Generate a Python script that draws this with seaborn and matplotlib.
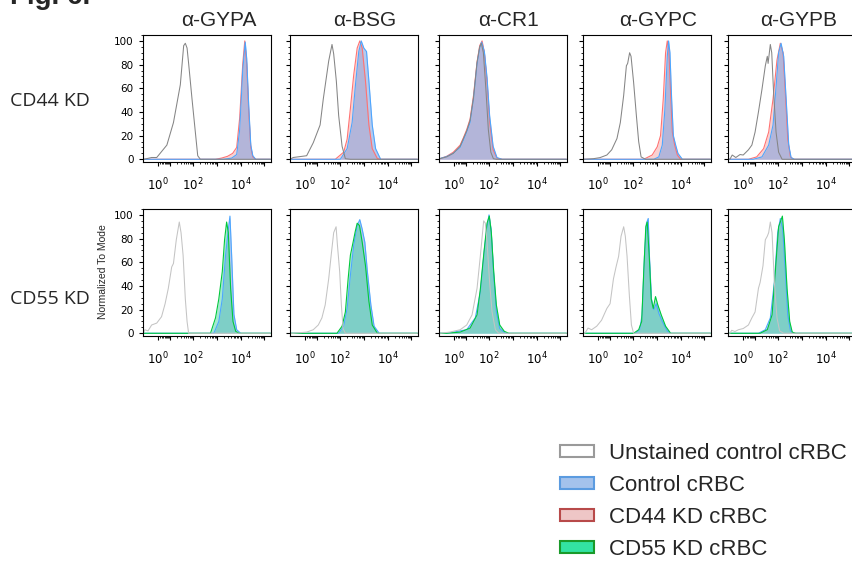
import matplotlib
matplotlib.use("Agg")
import matplotlib.pyplot as plt
import seaborn as sns
from matplotlib.patches import Patch
from matplotlib.ticker import MultipleLocator

# ---- labels -------------------------------------------------------------
markers = ["α-GYPA", "α-BSG", "α-CR1", "α-GYPC", "α-GYPB"]
rows = ["CD44 KD", "CD55 KD"]
legend_labels = ["Unstained control cRBC", "Control cRBC", "CD44 KD cRBC", "CD55 KD cRBC"]
x_major = [1, 10, 100, 1000, 10000, 100000]
x_major_labels = [r"$10^{0}$", "", r"$10^{2}$", "", r"$10^{4}$", ""]
y_ticks = [0, 20, 40, 60, 80, 100]
y_label = "Normalized To Mode"

# ---- histograms: (fluorescence intensity, % of mode) --
# CD44 KD row
gypa_cd44_unst = [(-9, 0), (-8.2, 0), (-2.5, 1.5), (0.3, 1.5), (6.8, 12), (14.2, 31), (28.4, 63),
                  (39.5, 96), (46.4, 98), (55, 94), (64, 81), (89, 51), (123, 23), (155, 3), (200, 0),
                  (180000, 0)]
gypa_cd44_ctrl = [(-9, 0), (1900, 0), (4200, 1), (6800, 4), (9100, 25), (12200, 75), (15600, 99),
                  (18000, 85), (21900, 45), (26700, 12), (32500, 3), (43000, 0), (180000, 0)]
gypa_cd44_kd = [(-9, 0), (870, 0), (1570, 1), (2800, 2.5), (4600, 5), (6800, 10), (9100, 35),
                (12200, 80), (14900, 100), (18000, 80), (21900, 40), (26700, 10), (32500, 2),
                (43000, 0), (180000, 0)]

bsg_cd44_unst = [(-9, 0), (-6.2, 1.5), (1.9, 3), (6.3, 14), (13.7, 29), (19, 51), (32.5, 83),
                 (45, 97), (53, 89), (68.7, 66), (86, 37), (120, 11), (165, 0.5), (269, 0), (180000, 0)]
bsg_cd44_ctrl = [(-9, 0), (101, 0), (196, 9), (318, 31), (440, 63), (607, 91), (770, 100), (990, 94),
                 (1287, 91), (1620, 66), (2240, 29), (3100, 9), (5064, 0), (180000, 0)]
bsg_cd44_kd = [(-9, 0), (62, 0), (140, 6), (196, 17), (269, 43), (370, 71), (520, 94), (670, 100),
               (845, 94), (1165, 66), (1620, 29), (2240, 9), (3680, 0.6), (5064, 0), (180000, 0)]

cr1_cd44_unst = [(-9, 0), (-8.2, 0.5), (-3.1, 2), (0.6, 5), (4.7, 11), (10.6, 24), (15.2, 33),
                 (21.5, 52), (30.5, 82), (39.6, 95), (46.4, 98), (56.6, 90), (72, 60), (92, 25),
                 (117, 6), (150, 0.5), (200, 0), (180000, 0)]
cr1_cd44_ctrl = [(-9, 0), (-8.2, 0.6), (-3.1, 2.3), (0.6, 5), (4.7, 10), (7.2, 16), (10.6, 23),
                 (15.2, 31), (21.5, 51), (30.5, 80), (39.6, 94), (48, 99), (62.5, 91), (81, 69),
                 (104, 37), (146, 11), (213, 1.4), (350, 0), (180000, 0)]
cr1_cd44_kd = [(-9, 0), (-8.2, 0.5), (-3.1, 2.5), (0.6, 6), (4.7, 12), (7.2, 18), (10.6, 25),
               (15.2, 34), (21.5, 54), (30.5, 82), (39.6, 96), (50, 100), (62.5, 90), (81, 65),
               (104, 32), (146, 8), (213, 1), (350, 0), (180000, 0)]

gypc_cd44_unst = [(-9, 0), (-7.3, 0), (-1.5, 0.5), (2.1, 1.4), (6.8, 3.6), (11.8, 8), (20.3, 17.5),
                  (28.4, 31), (39.5, 54), (51.5, 79), (58.3, 81), (70.6, 90), (81, 87), (104, 65),
                  (136, 37), (170, 15), (215, 2), (328, 0), (180000, 0)]
gypc_cd44_ctrl = [(-9, 0), (740, 0), (1200, 2), (1680, 12), (2160, 42), (2730, 87), (3100, 100),
                  (3540, 90), (4165, 51), (4920, 20), (6160, 12), (7700, 5), (11800, 0), (180000, 0)]
gypc_cd44_kd = [(-9, 0), (278, 0), (630, 3.6), (1030, 10.5), (1420, 20), (1850, 51), (2315, 90),
                (2730, 100), (3200, 92), (3780, 56), (4460, 23), (5590, 12), (7270, 3.6), (10000, 0),
                (180000, 0)]

gypb_cd44_unst = [(-9, 0), (-7.3, 0), (-5.4, 3.6), (-3, 1.5), (-0.6, 4), (1.1, 3.6), (4.2, 8),
                  (6.8, 12), (9.9, 23), (14.2, 40), (20.3, 59), (28.4, 79), (34.5, 87), (37.3, 81),
                  (46.4, 97), (53.3, 90), (64, 56), (81, 23), (104, 6), (146, 0), (180000, 0)]
gypb_cd44_ctrl = [(-9, 0), (8.1, 0), (20.3, 2), (39.5, 12), (60.5, 29), (84, 65), (104, 90),
                  (132, 98), (170, 87), (216, 51), (278, 12), (350, 1.4), (484, 0), (180000, 0)]
gypb_cd44_kd = [(-9, 0), (4.2, 0), (11.8, 2), (24, 9), (39.5, 23), (60.5, 51), (89, 84), (123, 98),
                (160, 90), (200, 56), (253, 17), (328, 2), (446, 0), (180000, 0)]

# CD55 KD row
gypa_cd55_unst = [(-9, 0), (-8.8, 0), (-7.3, 3), (-4.8, 2), (-2.5, 7), (0.3, 8.6), (3.0, 14),
                  (5.4, 25), (8.1, 38), (11.8, 56), (14.2, 59), (19, 79), (25.6, 94), (30.5, 85),
                  (37.3, 66), (46.4, 29), (55, 10), (64, 0), (180000, 0)]
gypa_cd55_ctrl = [(-9, 0), (740, 0), (1200, 10), (1680, 29), (2315, 66), (3020, 88), (3540, 99),
                  (4165, 66), (5200, 16), (6800, 3), (10000, 0), (180000, 0)]
gypa_cd55_kd = [(-9, 0), (535, 0), (871, 13), (1200, 29), (1680, 52), (2100, 79), (2560, 94),
                (3020, 85), (3780, 38), (4750, 10), (6160, 1.7), (8500, 0), (180000, 0)]

bsg_cd55_unst = [(-9, 0), (-6.2, 0), (1.9, 1), (6.3, 3), (11.3, 7), (16.5, 13), (23, 24), (32.5, 46),
                 (41.5, 66), (53, 85), (67, 90), (76, 75), (95, 52), (112, 24), (132, 4), (165, 0),
                 (180000, 0)]
bsg_cd55_ctrl = [(-9, 0), (86, 0), (140, 6), (196, 21), (269, 49), (370, 74), (520, 91), (670, 96),
                 (845, 88), (1090, 77), (1400, 52), (1960, 24), (2680, 6), (4400, 0), (180000, 0)]
bsg_cd55_kd = [(-9, 0), (73, 0), (120, 6), (165, 18), (216, 46), (269, 66), (350, 77), (430, 86),
               (520, 93), (650, 91), (845, 77), (1165, 57), (1620, 27), (2240, 7), (3680, 0),
               (180000, 0)]

cr1_cd55_unst = [(-9, 0), (-8.2, 0), (-1.2, 1), (4.7, 3), (10.6, 7), (18.5, 15.5), (30.5, 38),
                 (42.5, 66), (58.3, 95), (68.7, 93), (81, 77), (104, 43), (132, 18), (182, 3),
                 (253, 0), (180000, 0)]
cr1_cd55_ctrl = [(-9, 0), (-3.1, 0), (10.6, 3), (25.6, 13), (42.5, 35), (62.5, 71), (81, 90),
                 (98, 100), (120, 88), (155, 49), (200, 18), (278, 4), (484, 0), (180000, 0)]
cr1_cd55_kd = [(-9, 0), (-3.1, 0), (4.7, 1), (15.2, 4.4), (30.5, 15.5), (42.5, 38), (58.3, 66),
               (81, 93), (101, 99), (123, 85), (155, 52), (200, 24), (278, 7), (430, 1.7), (670, 0),
               (180000, 0)]

gypc_cd55_unst = [(-9, 0), (-7.3, 0), (-4.8, 4.4), (-2.5, 3), (0.3, 6), (3.0, 11), (6.8, 21),
                  (9.9, 25), (14.2, 46), (18.5, 56), (24, 65), (30.5, 82), (39.5, 90), (46.4, 82),
                  (55, 65), (68.7, 32), (84, 7), (104, 0), (180000, 0)]
gypc_cd55_ctrl = [(-9, 0), (123, 0), (188, 3), (236, 15.5), (298, 65), (362, 93), (430, 97),
                  (484, 65), (589, 29), (740, 20), (935, 25), (1200, 17), (1680, 10), (2730, 2),
                  (3780, 0), (180000, 0)]
gypc_cd55_kd = [(-9, 0), (104, 0), (170, 3), (228, 10), (278, 52), (340, 90), (390, 94), (475, 65),
                (575, 29), (700, 21), (871, 31), (1090, 24), (1520, 15.5), (2315, 6), (3780, 0),
                (180000, 0)]

gypb_cd55_unst = [(-9, 0), (-7.3, 0), (-5.8, 2.5), (-3.5, 1.5), (-1.5, 3), (1.1, 4), (4.2, 7),
                  (6.8, 13), (9.9, 18), (14.2, 38), (16.9, 43), (22.5, 57), (28.4, 79), (34.5, 82),
                  (39.5, 85), (46.4, 94), (55, 85), (68.7, 43), (89, 13), (115, 2), (170, 0),
                  (180000, 0)]
gypb_cd55_ctrl = [(-9, 0), (14.2, 0), (28.4, 3), (46.4, 13), (68.7, 43), (95, 85), (123, 97),
                  (155, 88), (200, 52), (253, 15.5), (328, 2), (446, 0), (180000, 0)]
gypb_cd55_kd = [(-9, 0), (16.9, 0), (34.5, 3), (55, 15.5), (75.5, 52), (104, 90), (123, 94),
                (150, 99), (182, 79), (236, 38), (305, 10), (390, 1), (535, 0), (180000, 0)]

unstained = {
    "CD44 KD": [gypa_cd44_unst, bsg_cd44_unst, cr1_cd44_unst, gypc_cd44_unst, gypb_cd44_unst],
    "CD55 KD": [gypa_cd55_unst, bsg_cd55_unst, cr1_cd55_unst, gypc_cd55_unst, gypb_cd55_unst],
}
control = {
    "CD44 KD": [gypa_cd44_ctrl, bsg_cd44_ctrl, cr1_cd44_ctrl, gypc_cd44_ctrl, gypb_cd44_ctrl],
    "CD55 KD": [gypa_cd55_ctrl, bsg_cd55_ctrl, cr1_cd55_ctrl, gypc_cd55_ctrl, gypb_cd55_ctrl],
}
knockdown = {
    "CD44 KD": [gypa_cd44_kd, bsg_cd44_kd, cr1_cd44_kd, gypc_cd44_kd, gypb_cd44_kd],
    "CD55 KD": [gypa_cd55_kd, bsg_cd55_kd, cr1_cd55_kd, gypc_cd55_kd, gypb_cd55_kd],
}

# ---- style ---------------------------------------------------------------
sns.set_style("ticks")
plt.rcParams.update({
    "font.family": ["DejaVu Sans"],
    "mathtext.fontset": "dejavusans",
    "axes.linewidth": 0.8,
    "axes.edgecolor": "black",
    "xtick.color": "black",
    "ytick.color": "black",
})

CTRL_FILL, CTRL_EDGE = "#7a9fe0", "#4da6ff"
KD_STYLE = {
    "CD44 KD": ("#f29a9a", "#ff7272", 0.45),
    "CD55 KD": ("#48d4a2", "#00c83c", 0.5),
}
UNST_EDGE = {"CD44 KD": "#858585", "CD55 KD": "#c4c4c4"}

W, H = 853, 561
col_left = [143, 290, 439, 583, 728]
row_top = [35, 209]
ax_w, ax_h = 128, 127
title_x = [219, 365, 509, 658, 799]
row_label_y = [101, 299]


def draw_hist(ax, curve, edge, fill=None, alpha=0.5, lw=0.8):
    xs = [p[0] for p in curve]
    ys = [p[1] for p in curve]
    if fill is not None:
        ax.fill_between(xs, ys, color=fill, alpha=alpha, lw=0)
    sns.lineplot(x=xs, y=ys, ax=ax, color=edge, lw=lw, estimator=None, sort=False)


fig = plt.figure(figsize=(W / 100, H / 100), dpi=100)

x_minor = [k * 10 ** n for n in range(0, 5) for k in range(2, 10)]

for i, row in enumerate(rows):
    for j, marker in enumerate(markers):
        ax = fig.add_axes([col_left[j] / W, 1 - (row_top[i] + ax_h) / H, ax_w / W, ax_h / H])
        kd_fill, kd_edge, kd_alpha = KD_STYLE[row]
        if row == "CD44 KD":
            draw_hist(ax, knockdown[row][j], kd_edge, kd_fill, kd_alpha)
            draw_hist(ax, control[row][j], CTRL_EDGE, CTRL_FILL, 0.55)
        else:
            draw_hist(ax, control[row][j], CTRL_EDGE, CTRL_FILL, 0.55)
            draw_hist(ax, knockdown[row][j], kd_edge, kd_fill, kd_alpha)
        draw_hist(ax, unstained[row][j], UNST_EDGE[row], lw=0.75)

        ax.set_xscale("asinh", linear_width=5.5)
        ax.set_xlim(-9.1, 1.9e5)
        ax.set_ylim(-2.3, 105)
        ax.set_xticks(x_major)
        ax.set_xticklabels(x_major_labels)
        ax.set_xticks(x_minor, minor=True)
        ax.set_yticks(y_ticks)
        ax.yaxis.set_minor_locator(MultipleLocator(5))
        if j == 0:
            ax.set_yticklabels([str(v) for v in y_ticks])
        else:
            ax.set_yticklabels([])
        ax.set_xlabel("")
        ax.set_ylabel("")
        ax.tick_params(axis="both", which="major", direction="out", length=2.6, width=0.8)
        ax.tick_params(axis="both", which="minor", direction="out", length=1.5, width=0.6)
        ax.tick_params(axis="x", which="major", labelsize=8.5, pad=8)
        ax.tick_params(axis="y", which="major", labelsize=7.5, pad=4)
        for side in ["top", "right", "left", "bottom"]:
            ax.spines[side].set_visible(True)
            ax.spines[side].set_linewidth(0.8)

    fig.text(10 / W, 1 - row_label_y[i] / H, row, ha="left", va="center",
             fontsize=14, family="Open Sans")

for j, marker in enumerate(markers):
    fig.text(title_x[j] / W, 1 - 26 / H, marker, ha="center", va="baseline",
             fontsize=15, family="Liberation Sans")

fig.text(103 / W, 1 - 272 / H, y_label, rotation=90, ha="center", va="center",
         fontsize=7.5, family="Liberation Sans")
fig.text(10 / W, 1 - 4 / H, "Fig. 6.", ha="left", va="baseline",
         fontsize=20, fontweight="bold", family="Liberation Sans")

handles = [
    Patch(facecolor="white", edgecolor="#9a9a9a", lw=1.5),
    Patch(facecolor="#a4c2ec", edgecolor="#5b9be0", lw=1.5),
    Patch(facecolor="#eec6c6", edgecolor="#b84a4a", lw=1.5),
    Patch(facecolor="#33e3a3", edgecolor="#1a9a2a", lw=1.5),
]
fig.legend(handles, legend_labels, loc="upper left", bbox_to_anchor=(560 / W, 1 - 443 / H),
           frameon=False, prop={"family": "Liberation Sans", "size": 16},
           handlelength=1.55, handleheight=0.45, handletextpad=0.65, labelspacing=0.5,
           borderpad=0, borderaxespad=0)

fig.savefig("out.png", dpi=100)
